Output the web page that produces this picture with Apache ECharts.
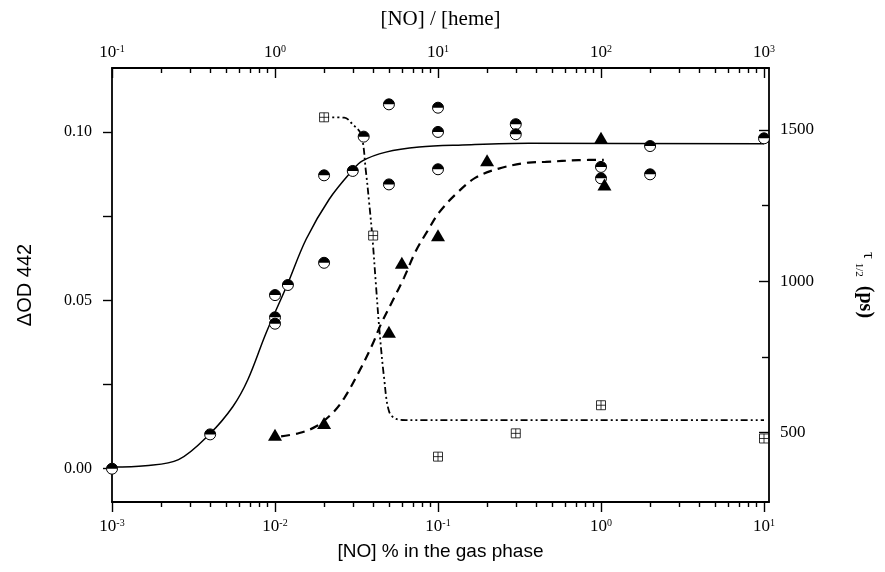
<!DOCTYPE html>
<html><head><meta charset="utf-8">
<script src="https://cdn.jsdelivr.net/npm/echarts@6/dist/echarts.min.js"></script>
<style>html,body{margin:0;padding:0;background:#fff}#c{width:885px;height:572px}</style>
</head><body><div id="c"></div>
<script>
// ---- data ----
// half-filled circles: Delta OD 442 vs [NO] %
const circleX = [0.001, 0.004, 0.01, 0.01, 0.01, 0.012, 0.02, 0.02, 0.03, 0.035, 0.05, 0.05, 0.1, 0.1, 0.1, 0.3, 0.3, 1, 1, 2, 2, 10];
const circleY = [0.0, 0.0102, 0.0516, 0.045, 0.0431, 0.0546, 0.0872, 0.0612, 0.0885, 0.0987, 0.1083, 0.0845, 0.1073, 0.1001, 0.089, 0.1024, 0.0994, 0.0897, 0.0863, 0.0959, 0.0875, 0.0982];
// filled triangles: Delta OD 442
const triX = [0.01, 0.02, 0.05, 0.06, 0.1, 0.2, 1.0, 1.05];
const triY = [0.0101, 0.0136, 0.0407, 0.0612, 0.0694, 0.0917, 0.0984, 0.0845];
// crossed squares: tau 1/2 (ps), right axis
const sqX = [0.02, 0.04, 0.1, 0.3, 1, 10];
const sqY = [1542, 1151, 420, 497, 590, 480];
// fitted curves, points
const solidX = [0.001, 0.0016, 0.00256, 0.00397, 0.00552, 0.00682, 0.00883, 0.01187, 0.01552, 0.0215, 0.0296, 0.0344, 0.0479, 0.0766, 0.141, 0.36, 10];
const solidY = [0.0005, 0.0009, 0.0027, 0.0103, 0.0185, 0.0265, 0.0404, 0.0546, 0.0682, 0.0801, 0.0885, 0.0915, 0.0941, 0.0956, 0.0962, 0.0967, 0.0966];
const dashX = [0.0109, 0.0141, 0.0179, 0.0226, 0.0266, 0.0329, 0.0396, 0.0446, 0.0525, 0.0619, 0.0731, 0.0861, 0.1014, 0.128, 0.170, 0.236, 0.360, 0.456, 0.728, 1.04];
const dashY = [0.0096, 0.0106, 0.0126, 0.0166, 0.0210, 0.0290, 0.0369, 0.0429, 0.0498, 0.0568, 0.0647, 0.0706, 0.0761, 0.0815, 0.0865, 0.0892, 0.0910, 0.0912, 0.0917, 0.0918];
const dotX = [0.0195, 0.0266, 0.0299, 0.0337, 0.0361, 0.0379, 0.0396, 0.0416, 0.0436, 0.0467, 0.0501, 0.0553, 0.0635, 10];
const dotY = [1542, 1541, 1519, 1486, 1364, 1254, 1144, 989, 845, 680, 569, 545, 541, 541];
// tick labels
const bottomTicks = [0.001, 0.01, 0.1, 1, 10];
const bottomExp = ['-3', '-2', '-1', '0', '1'];
const topTicks = [0.1, 1, 10, 100, 1000];
const topExp = ['-1', '0', '1', '2', '3'];
const leftTicks = [0, 0.05, 0.1];
const leftLabels = ['0.00', '0.05', '0.10'];
const leftMinor = [0.025, 0.075];
const rightTicks = [500, 1000, 1500];
const rightLabels = ['500', '1000', '1500'];
const rightMinor = [750, 1250];

// ---- chart ----
const SERIF = '"Liberation Serif", "Times New Roman", serif';
const SANS = '"Liberation Sans", Arial, sans-serif';
const zip = (a, b) => a.map((v, i) => [v, b[i]]);
function minorOf(decades) {
  const out = [];
  decades.forEach(d => { for (let k = 2; k <= 9; k++) out.push(+(d * k).toPrecision(6)); });
  return out;
}
const axLine = { show: true, onZero: false, lineStyle: { color: '#000', width: 1.8 } };
const tickStyle = { color: '#000', width: 1.4 };
const richSup = {
  b: { fontSize: 17, fontFamily: SERIF, color: '#000', lineHeight: 18 },
  s: { fontSize: 10, fontFamily: SERIF, color: '#000', verticalAlign: 'top', lineHeight: 10 }
};
function expFormatter(ticks, exps) {
  return function (v) {
    const lv = Math.log10(v);
    const i = ticks.findIndex(t => Math.abs(Math.log10(t) - lv) < 0.01);
    return i < 0 ? '' : '{b|10}{s|' + exps[i] + '}';
  };
}
function listFormatter(ticks, labels) {
  return function (v) {
    const i = ticks.findIndex(t => Math.abs(t - v) < 1e-6 * Math.max(1, Math.abs(t)));
    return i < 0 ? '' : labels[i];
  };
}
const XMIN = 0.001, XMAX = 10.73;

const option = {
  animation: false,
  backgroundColor: '#fff',
  grid: { left: 112, right: 114, top: 68, bottom: 70 },
  xAxis: [
    { type: 'log', logBase: 10, min: XMIN, max: XMAX, position: 'bottom',
      axisLine: axLine,
      axisTick: { show: true, inside: false, length: 10, customValues: bottomTicks, lineStyle: tickStyle },
      axisLabel: { customValues: bottomTicks, formatter: expFormatter(bottomTicks, bottomExp), rich: richSup, margin: 16 },
      splitLine: { show: false }, minorTick: { show: false },
      name: '[NO] % in the gas phase', nameLocation: 'middle', nameGap: 40,
      nameTextStyle: { fontFamily: SANS, fontSize: 19, color: '#000' } },
    { type: 'log', logBase: 10, min: XMIN, max: XMAX, position: 'bottom',
      axisLine: { show: false, onZero: false },
      axisTick: { show: true, inside: false, length: 5, customValues: minorOf([0.001, 0.01, 0.1, 1]), lineStyle: tickStyle },
      axisLabel: { show: false }, splitLine: { show: false } },
    { type: 'log', logBase: 10, min: XMIN * 100, max: XMAX * 100, position: 'top',
      axisLine: axLine,
      axisTick: { show: true, inside: true, length: 10, customValues: topTicks, lineStyle: tickStyle },
      axisLabel: { customValues: topTicks, formatter: expFormatter(topTicks, topExp), rich: richSup, margin: 6 },
      splitLine: { show: false },
      name: '[NO] / [heme]', nameLocation: 'middle', nameGap: 38,
      nameTextStyle: { fontFamily: SERIF, fontSize: 21, color: '#000' } },
    { type: 'log', logBase: 10, min: XMIN * 100, max: XMAX * 100, position: 'top',
      axisLine: { show: false, onZero: false },
      axisTick: { show: true, inside: true, length: 5, customValues: minorOf([0.1, 1, 10, 100]), lineStyle: tickStyle },
      axisLabel: { show: false }, splitLine: { show: false } }
  ],
  yAxis: [
    { type: 'value', min: -0.0099, max: 0.1191, position: 'left',
      axisLine: axLine,
      axisTick: { show: true, inside: false, length: 9, customValues: leftTicks.concat(leftMinor), lineStyle: tickStyle },
      axisLabel: { customValues: leftTicks, margin: 20, fontFamily: SERIF, fontSize: 16, color: '#000',
        formatter: listFormatter(leftTicks, leftLabels) },
      splitLine: { show: false },
      name: 'ΔOD 442', nameLocation: 'middle', nameGap: 77, nameRotate: 90,
      nameTextStyle: { fontFamily: SANS, fontSize: 20, color: '#000' } },
    { type: 'value', min: 270, max: 1705, position: 'right',
      axisLine: axLine,
      axisTick: { show: true, inside: true, length: 10, customValues: rightTicks, lineStyle: tickStyle },
      axisLabel: { customValues: rightTicks, margin: 11, fontFamily: SERIF, fontSize: 17, color: '#000',
        formatter: listFormatter(rightTicks, rightLabels) },
      splitLine: { show: false },
      name: '{t|τ}{h|1/2}{p| (ps)}', nameLocation: 'middle', nameGap: 84, nameRotate: -90,
      nameTextStyle: { color: '#000', rich: {
        t: { fontFamily: SERIF, fontSize: 17, color: '#000', verticalAlign: 'top', lineHeight: 24 },
        h: { fontFamily: SERIF, fontSize: 11, color: '#000', verticalAlign: 'bottom', lineHeight: 24, padding: [0, 4, 0, 4] },
        p: { fontFamily: SERIF, fontSize: 20, fontWeight: 'bold', color: '#000', lineHeight: 24 } } } },
    { type: 'value', min: 270, max: 1705, position: 'right',
      axisLine: { show: false, onZero: false },
      axisTick: { show: true, inside: true, length: 7, customValues: rightMinor, lineStyle: tickStyle },
      axisLabel: { show: false }, splitLine: { show: false } }
  ],
  series: [
    { type: 'line', xAxisIndex: 0, yAxisIndex: 0, data: zip(solidX, solidY), showSymbol: false, smooth: 0.35,
      lineStyle: { color: '#000', width: 1.5 }, silent: true, z: 2 },
    { type: 'line', xAxisIndex: 0, yAxisIndex: 0, data: zip(dashX, dashY), showSymbol: false, smooth: 0.35,
      lineStyle: { color: '#000', width: 2.2, type: [9, 6] }, silent: true, z: 2 },
    { type: 'line', xAxisIndex: 0, yAxisIndex: 1, data: zip(dotX, dotY), showSymbol: false, smooth: 0.35,
      lineStyle: { color: '#000', width: 1.8, type: [7, 3, 2, 3, 2, 3] }, silent: true, z: 2 },
    { type: 'scatter', xAxisIndex: 0, yAxisIndex: 0, data: zip(circleX, circleY), symbol: 'circle', symbolSize: 11,
      itemStyle: { color: '#fff', borderColor: '#000', borderWidth: 1, opacity: 1 }, z: 3, clip: false },
    { type: 'scatter', xAxisIndex: 0, yAxisIndex: 0, data: zip(circleX, circleY), symbol: 'path://M0,10 A10,10 0 0 1 20,10 Z',
      symbolSize: [11, 5.5], symbolOffset: [0, -2.75], itemStyle: { color: '#000', opacity: 1 }, z: 4, clip: false },
    { type: 'scatter', xAxisIndex: 0, yAxisIndex: 0, data: zip(triX, triY), symbol: 'triangle', symbolSize: [14, 12],
      itemStyle: { color: '#000', opacity: 1 }, z: 4, clip: false },
    { type: 'scatter', xAxisIndex: 0, yAxisIndex: 1, data: zip(sqX, sqY), symbol: 'path://M0,0L10,0L10,10L0,10Z M5,0L5,10 M0,5L10,5',
      symbolSize: 9, itemStyle: { color: '#fff', borderColor: '#000', borderWidth: 0.8, opacity: 1 }, z: 4, clip: false }
  ]
};
const chart = echarts.init(document.getElementById('c'), null, { renderer: 'canvas' });
chart.setOption(option);
</script></body></html>
